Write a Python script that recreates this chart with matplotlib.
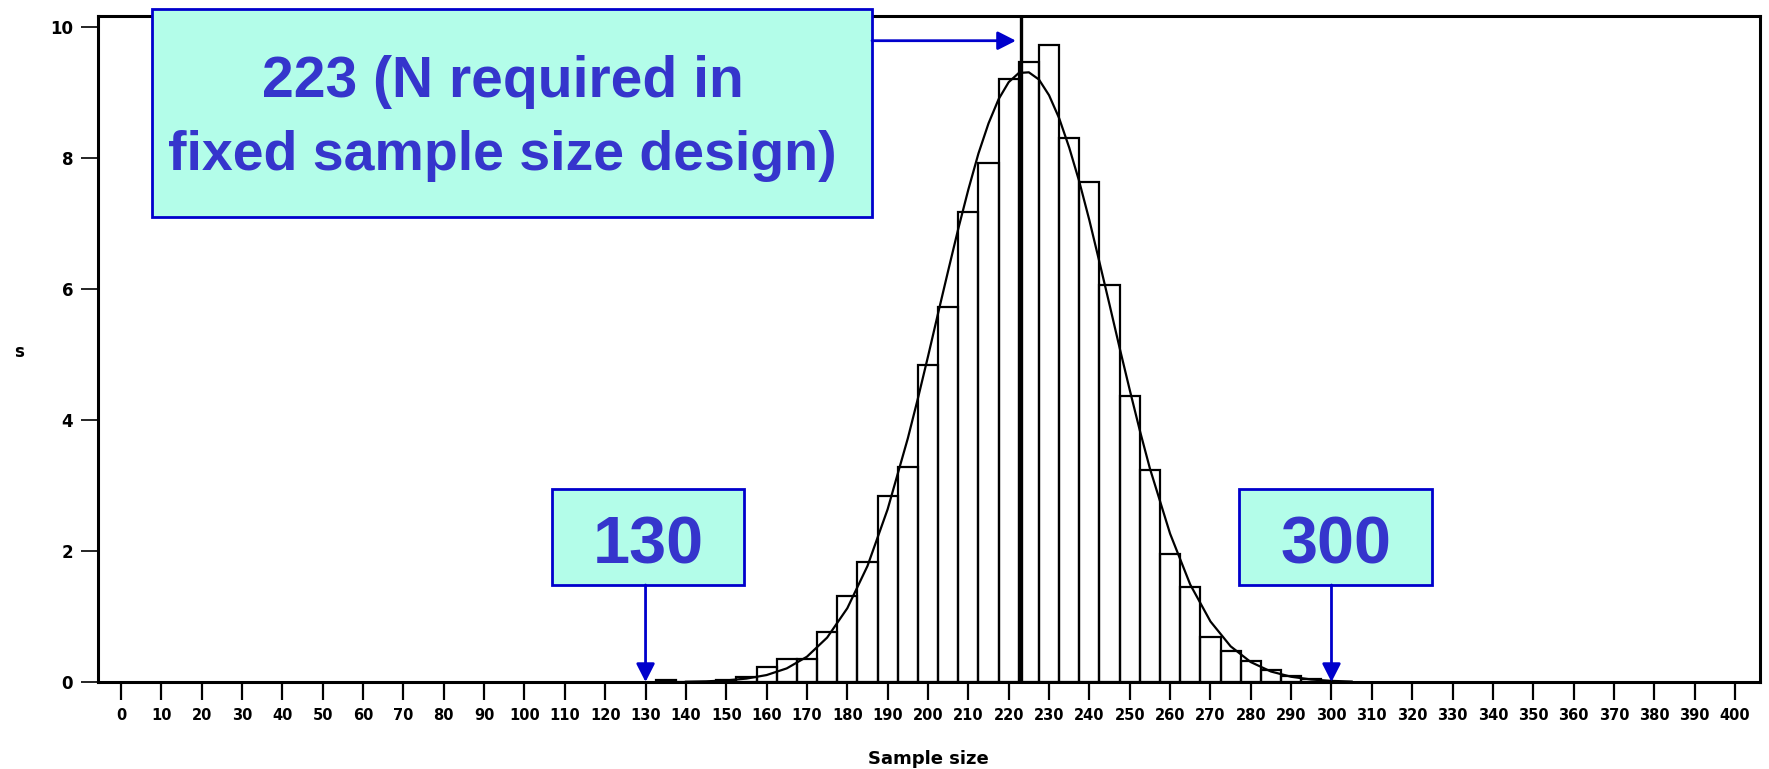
import matplotlib
matplotlib.use('Agg')
import matplotlib.pyplot as plt
from matplotlib.patches import Rectangle
from matplotlib import transforms
from matplotlib import font_manager

# ---------------- data ----------------
bin_centers = [135, 140, 145, 150, 155, 160, 165, 170, 175, 180, 185, 190, 195,
               200, 205, 210, 215, 220, 225, 230, 235, 240, 245, 250, 255, 260,
               265, 270, 275, 280, 285, 290, 295]
percent = [0.03, 0, 0, 0.03, 0.08, 0.23, 0.35, 0.35, 0.76, 1.32, 1.84, 2.84, 3.29,
           4.84, 5.73, 7.17, 7.93, 9.21, 9.47, 9.73, 8.30, 7.63, 6.06, 4.37, 3.24, 1.96,
           1.45, 0.69, 0.48, 0.32, 0.18, 0.09, 0.04]

curve_x = [140, 145, 150, 155, 160, 165, 170, 175, 180, 185, 190, 195, 197.5,
           200, 202.5, 205, 207.5, 210, 212.5, 215, 217.5, 220, 222.5, 225, 227.5,
           230, 232.5, 235, 237.5, 240, 242.5, 245, 247.5, 250, 252.5, 255, 260,
           265, 270, 275, 280, 285, 290, 295, 300, 305]
curve_y = [0.004, 0.010, 0.024, 0.052, 0.106, 0.208, 0.386, 0.678, 1.126, 1.771,
           2.638, 3.72, 4.33, 4.97, 5.63, 6.28, 6.92, 7.52, 8.07, 8.53, 8.90, 9.16,
           9.30, 9.31, 9.20, 8.96, 8.61, 8.16, 7.64, 7.05, 6.41, 5.76, 5.10, 4.46,
           3.84, 3.26, 2.265, 1.487, 0.925, 0.545, 0.304, 0.160, 0.080, 0.038,
           0.017, 0.007]

xticks = list(range(0, 401, 10))
yticks = [0, 2, 4, 6, 8, 10]
fixed_n = 223
lower_n = 130
upper_n = 300
main_label = ["223 (N required in", "fixed sample size design)"]
lower_label = "130"
upper_label = "300"

# ---------------- fonts ----------------
available = {f.name for f in font_manager.fontManager.ttflist}
narrow = 'Liberation Sans Narrow' if 'Liberation Sans Narrow' in available else 'DejaVu Sans'
ytick_size = 15 if narrow == 'Liberation Sans Narrow' else 12

# ---------------- layout ----------------
W, H = 1769, 769
fig = plt.figure(figsize=(W / 100, H / 100), dpi=100)
fig.patch.set_facecolor('white')

def fx(x):
    return x / W

def fy(y):
    return 1 - y / H

ax = fig.add_axes([fx(98), fy(682), fx(1760) - fx(98), fy(16) - fy(682)])
ax.set_xlim(-5.7, 406.2)
ax.set_ylim(0, 10.17)

# histogram bars
ax.bar(bin_centers, percent, width=5, fill=False, edgecolor='black',
       linewidth=1.6, zorder=3)
# fitted curve
ax.plot(curve_x, curve_y, color='black', linewidth=1.6, zorder=4)
# reference line at fixed N
ax.axvline(fixed_n, color='black', linewidth=2.4, zorder=5)

# spines
for s in ax.spines.values():
    s.set_linewidth(2.2)
    s.set_color('black')

ax.set_xticks(xticks)
ax.set_xticklabels([str(t) for t in xticks], fontweight='bold',
                   family='DejaVu Sans', fontsize=10.5)
ax.set_yticks(yticks)
ax.set_yticklabels([str(t) for t in yticks], fontweight='bold',
                   family=narrow, fontsize=ytick_size)
ax.tick_params(axis='x', direction='out', length=13, width=1.6, pad=5.5,
               colors='black')
ax.tick_params(axis='y', direction='out', length=12, width=1.2, pad=6,
               colors='black')

ax.set_xlabel('Sample size', fontsize=13, fontweight='bold')
ax.xaxis.set_label_coords((928 - 98) / 1662, (682 - 759) / 666)
ax.xaxis.label.set_va('center')
ax.set_ylabel('s', rotation=0, fontsize=12, fontweight='bold')
ax.yaxis.set_label_coords((19 - 98) / 1662, (682 - 352) / 666)
ax.yaxis.label.set_va('center')
ax.yaxis.label.set_ha('center')

# ---------------- annotations ----------------
box_face = '#b3fde9'
box_edge = '#0000cc'
txt_col = '#3535cc'
arrow_col = '#0000cc'
font_fam = ['Liberation Sans', 'DejaVu Sans']

def add_box(x0, y0, x1, y1):
    r = Rectangle((fx(x0), fy(y1)), fx(x1) - fx(x0), fy(y0) - fy(y1),
                  transform=fig.transFigure, facecolor=box_face,
                  edgecolor=box_edge, linewidth=2, clip_on=False, zorder=10)
    ax.add_patch(r)

add_box(152, 9, 872, 217)
fig.text(fx(503), fy(97), main_label[0], ha='center', va='baseline', fontsize=41,
         fontweight='bold', color=txt_col, family=font_fam, zorder=12)
fig.text(fx(502), fy(170), main_label[1], ha='center', va='baseline', fontsize=40,
         fontweight='bold', color=txt_col, family=font_fam, zorder=12)

add_box(552, 489, 744, 585)
fig.text(fx(648), fy(563), lower_label, ha='center', va='baseline', fontsize=48,
         fontweight='bold', color=txt_col, family=font_fam, zorder=12)

add_box(1239, 489, 1432, 585)
fig.text(fx(1336), fy(563), upper_label, ha='center', va='baseline', fontsize=48,
         fontweight='bold', color=txt_col, family=font_fam, zorder=12)

blend = transforms.blended_transform_factory(ax.transData, fig.transFigure)
aprops = dict(arrowstyle='-|>,head_length=0.55,head_width=0.28', color=arrow_col,
              lw=2, shrinkA=0, shrinkB=0, mutation_scale=20)

ax.annotate('', xy=(lower_n, 0), xycoords='data',
            xytext=(lower_n, fy(585)), textcoords=blend,
            arrowprops=aprops, annotation_clip=False, zorder=11)
ax.annotate('', xy=(upper_n, 0), xycoords='data',
            xytext=(upper_n, fy(585)), textcoords=blend,
            arrowprops=aprops, annotation_clip=False, zorder=11)
aprops2 = dict(aprops)
aprops2['shrinkB'] = 3.5
ax.annotate('', xy=(fixed_n, fy(40.7)), xycoords=blend,
            xytext=(fx(872), fy(40.7)), textcoords='figure fraction',
            arrowprops=aprops2, annotation_clip=False, zorder=11)

fig.savefig('out.png', dpi=100, facecolor='white')
